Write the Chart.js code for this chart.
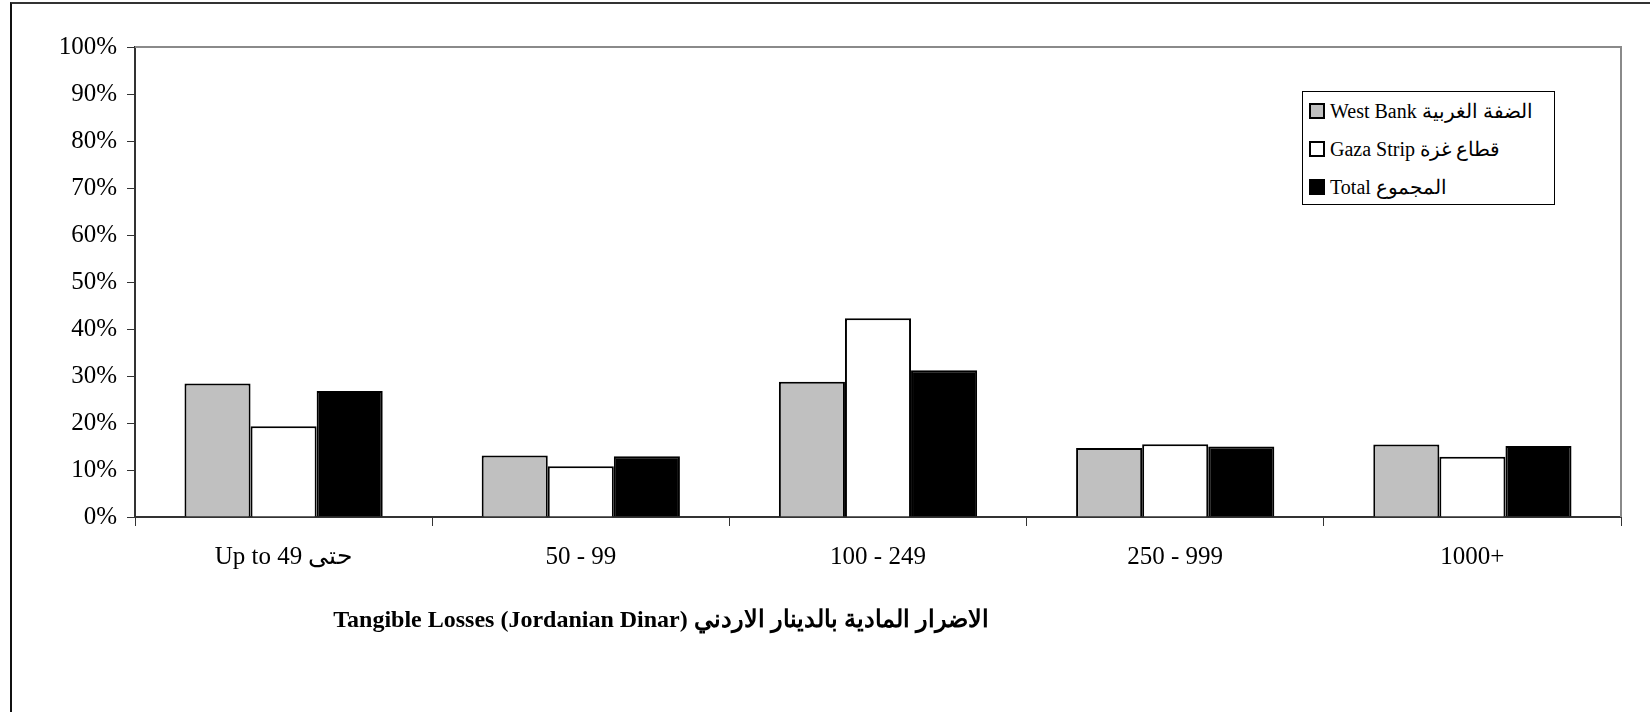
<!DOCTYPE html>
<html>
<head>
<meta charset="utf-8">
<script src="https://cdn.jsdelivr.net/npm/chart.js@4"></script>
<style>
    html, body { margin: 0; padding: 0; background: #fff; overflow: hidden; }
    #wrap { position: relative; width: 1650px; height: 712px; }
    #frame { position: absolute; left: 10px; top: 2px; width: 1700px; height: 800px;
             border-left: 2px solid #111; border-top: 2px solid #333; }
    #legend { position: absolute; left: 1302px; top: 91px; width: 251px; height: 112px;
              border: 1px solid #000; background: #fff; font-family: 'Liberation Serif', serif;
              font-size: 20px; color: #000; }
    #legend div { position: absolute; left: 6px; height: 24px; line-height: 24px; white-space: nowrap; }
    #legend span.sw { display: inline-block; width: 12px; height: 12px; border: 2px solid #000;
                      vertical-align: -1px; margin-right: 5px; }
</style>
</head>
<body>
<div id="wrap">
    <div id="frame"></div>
    <canvas id="lossChart" width="1650" height="712"></canvas>
    <div id="legend"></div>
</div>
<script>
const categories = ['Up to 49 حتى', '50 - 99', '100 - 249', '250 - 999', '1000+'];
const westBank = [28.4, 13.1, 28.8, 14.7, 15.4];
const gazaStrip = [19.3, 10.8, 42.3, 15.5, 12.8];
const total = [26.8, 12.9, 31.2, 15.0, 15.1];
const seriesLabels = ['West Bank الضفة الغربية', 'Gaza Strip قطاع غزة', 'Total المجموع'];
const yTicks = [0, 10, 20, 30, 40, 50, 60, 70, 80, 90, 100];
const axisTitle = 'Tangible Losses (Jordanian Dinar) الاضرار المادية بالدينار الاردني';

const fontFamily = "'Liberation Serif', 'Times New Roman', serif";

// gray top/right plot border + axis title under the labels
const framePlugin = {
    id: 'framePlugin',
    beforeDatasetsDraw(chart) {
        const { ctx, chartArea: a } = chart;
        ctx.save();
        ctx.strokeStyle = '#8a8a8a';
        ctx.lineWidth = 2;
        ctx.beginPath();
        ctx.moveTo(a.left, a.top);
        ctx.lineTo(a.right, a.top);
        ctx.lineTo(a.right, a.bottom);
        ctx.stroke();
        ctx.restore();
    },
    afterDraw(chart) {
        const { ctx } = chart;
        ctx.save();
        ctx.font = 'bold 24px ' + fontFamily;
        ctx.fillStyle = '#000';
        ctx.textAlign = 'center';
        ctx.textBaseline = 'middle';
        ctx.fillText(axisTitle, 661, 621);
        ctx.restore();
    }
};

const chart = new Chart(document.getElementById('lossChart'), {
    type: 'bar',
    data: {
        labels: categories,
        datasets: [
            { label: seriesLabels[0], data: westBank, backgroundColor: '#c0c0c0' },
            { label: seriesLabels[1], data: gazaStrip, backgroundColor: '#ffffff' },
            { label: seriesLabels[2], data: total, backgroundColor: '#000000' }
        ].map(d => Object.assign(d, {
            borderColor: '#000',
            borderWidth: 2,
            borderSkipped: 'bottom',
            categoryPercentage: 0.667,
            barPercentage: 1.0
        }))
    },
    options: {
        responsive: false,
        animation: false,
        events: [],
        layout: { padding: { left: 0, right: 29, top: 47, bottom: 0 } },
        plugins: {
            legend: { display: false },
            tooltip: { enabled: false }
        },
        scales: {
            x: {
                offset: true,
                grid: {
                    offset: true,
                    drawOnChartArea: false,
                    drawTicks: true,
                    tickLength: 9,
                    color: '#333',
                    lineWidth: 1
                },
                border: { color: '#333', width: 2 },
                ticks: {
                    color: '#000',
                    padding: 16,
                    font: { family: fontFamily, size: 25 }
                },
                afterFit(scale) { scale.height = 195; }
            },
            y: {
                min: 0,
                max: 100,
                afterBuildTicks(scale) { scale.ticks = yTicks.map(v => ({ value: v })); },
                grid: {
                    drawOnChartArea: false,
                    drawTicks: true,
                    tickLength: 8,
                    color: '#333'
                },
                border: { color: '#333', width: 2 },
                ticks: {
                    color: '#000',
                    padding: 10,
                    font: { family: fontFamily, size: 25 },
                    callback: v => v + '%'
                },
                afterFit(scale) { scale.width = 135; }
            }
        }
    },
    plugins: [framePlugin]
});

// legend box built from the datasets
const legendEl = document.getElementById('legend');
const rowTops = [7, 45, 83];
chart.data.datasets.forEach((ds, i) => {
    const row = document.createElement('div');
    row.style.top = rowTops[i] + 'px';
    const sw = document.createElement('span');
    sw.className = 'sw';
    sw.style.background = ds.backgroundColor;
    row.appendChild(sw);
    row.appendChild(document.createTextNode(ds.label));
    legendEl.appendChild(row);
});
</script>
</body>
</html>
